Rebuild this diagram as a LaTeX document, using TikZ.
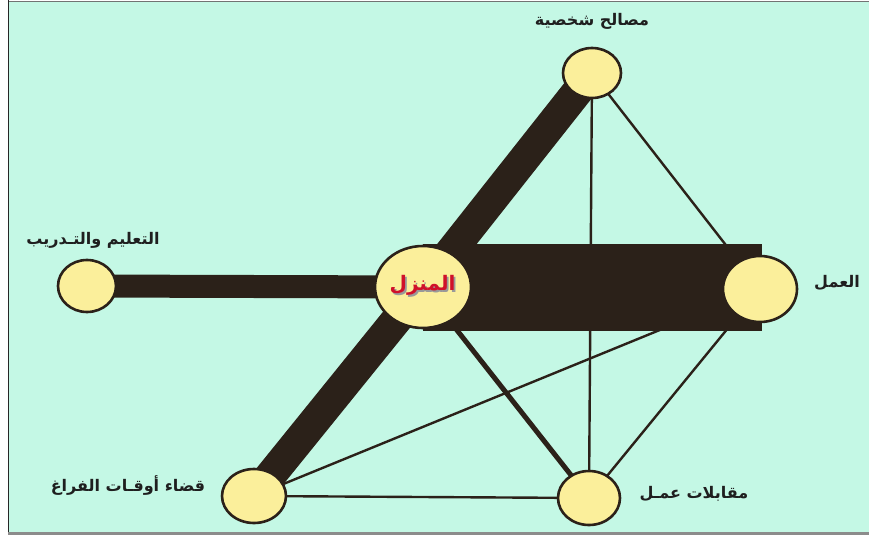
\documentclass[tikz,border=0pt]{standalone}
\usepackage{fontspec}
\usetikzlibrary{shapes.geometric}
\TeXXeTstate=1
\newfontfamily\arabicfont[Script=Arabic]{DejaVu Sans}
\definecolor{mint}{HTML}{C4F8E5}
\definecolor{darkband}{HTML}{2B2119}
\definecolor{pale}{HTML}{FBEF9B}
\definecolor{homered}{HTML}{D0102A}
\pgfdeclarelayer{bg}
\pgfsetlayers{bg,main}
\tikzset{
  place/.style={ellipse, draw=darkband, line width=2.6pt, fill=pale, inner sep=0pt},
  lbl/.style={font=\arabicfont\bfseries\fontsize{16}{18}\selectfont, text=black!88, inner sep=0pt},
  thinlink/.style={draw=darkband, line width=2.4pt},
  thicklink/.style={draw=darkband, line width=31pt},
}
\begin{document}
\begin{tikzpicture}[x=1pt,y=-1pt]
\useasboundingbox (0,0) rectangle (869,535);
% nodes
\node[place, minimum width=96pt, minimum height=82pt] (home) at (423,287) {};
\node[place, minimum width=58pt, minimum height=50pt] (pers) at (592,73) {};
\node[place, minimum width=58pt, minimum height=52pt] (edu) at (87,286) {};
\node[place, minimum width=74pt, minimum height=66pt] (work) at (760,289) {};
\node[place, minimum width=64pt, minimum height=54pt] (leis) at (254,496) {};
\node[place, minimum width=62pt, minimum height=54pt] (intv) at (589,498) {};
% labels
\node[lbl] (lpers) at (592,21) {\beginR مصالح شخصية\endR};
\node[lbl] (ledu) at (93,240) {\beginR التعليم والتـدريب\endR};
\node[lbl] (lwork) at (837,283) {\beginR العمل\endR};
\node[lbl] (lleis) at (128,486) {\beginR قضاء أوقـات الفراغ\endR};
\node[lbl] (lintv) at (694,494) {\beginR مقابلات عمـل\endR};
\node[font=\arabicfont\bfseries\fontsize{20}{22}\selectfont, text=homered, inner sep=0pt] (lhome) at (422.5,286)
  {\rlap{\kern1.8pt\lower1.8pt\hbox{\color{black!40}\beginR المنزل\endR}}\hbox{\beginR المنزل\endR}};
\begin{pgfonlayer}{bg}
  \fill[white] (0,0) rectangle (869,535);
  \fill[mint] (8,2) rectangle (869,532);
  \fill[black!45] (8,532) rectangle (869,535);
  \draw[black!55, line width=1.5pt] (8,1.5) -- (869,1.5);
  \draw[black!85, line width=1.5pt] (8.5,0) -- (8.5,532);
  % thin connectors
  \draw[thinlink] (pers.center) -- (intv.center);
  \draw[thinlink] (pers.center) -- (work.center);
  \draw[thinlink] (work.center) -- (intv.center);
  \draw[thinlink] (work.center) -- (leis.center);
  \draw[thinlink] (leis.center) -- (intv.center);
  \draw[draw=darkband, line width=5pt] (home.center) -- (intv.center);
  % thick connectors
  \draw[thicklink] (home.center) -- (pers.center);
  \draw[thicklink] (home.center) -- (leis.center);
  \draw[draw=darkband, line width=23pt] (edu.center) -- (home.center);
  \draw[draw=darkband, line width=87pt] (home.center) -- ([xshift=2pt]home.center -| work.center);
\end{pgfonlayer}
\end{tikzpicture}
\end{document}
